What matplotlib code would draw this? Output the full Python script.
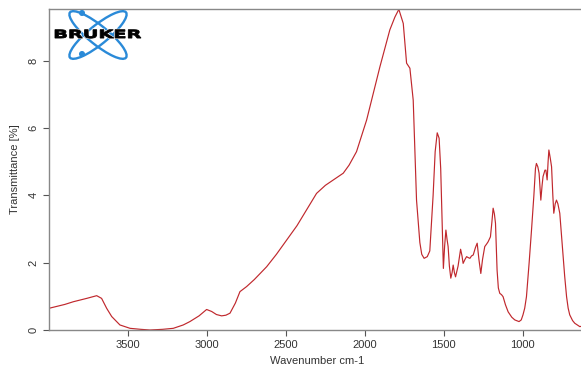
import numpy as np
import matplotlib.pyplot as plt
from matplotlib.patches import Ellipse, Circle, PathPatch
from matplotlib.textpath import TextPath
from matplotlib.font_manager import FontProperties
from matplotlib.transforms import Affine2D

# IR spectrum (wavenumber cm-1, transmittance %)
wavenumber = [4000, 3900, 3846, 3761, 3698, 3667, 3635, 3603, 3551, 3487, 3420, 3361,
              3280, 3213, 3150, 3108, 3050, 3002, 2970, 2940, 2907, 2880, 2854, 2820,
              2791, 2749, 2700, 2622, 2560, 2496, 2430, 2369, 2306, 2250, 2200, 2137,
              2100, 2053, 1989, 1905, 1842, 1810, 1785, 1757, 1736, 1715, 1694, 1673,
              1662, 1652, 1640, 1625, 1605, 1589, 1568, 1555, 1542, 1530, 1520, 1510,
              1503, 1495, 1487, 1480, 1473, 1465, 1456, 1448, 1441, 1433, 1426, 1410,
              1394, 1385, 1378, 1366, 1356, 1345, 1335, 1325, 1314, 1300, 1289, 1278,
              1266, 1255, 1241, 1230, 1220, 1205, 1196, 1188, 1180, 1173, 1163, 1155,
              1146, 1135, 1125, 1110, 1093, 1070, 1051, 1024, 1010, 999, 988, 977,
              960, 945, 930, 920, 914, 905, 897, 886, 878, 872, 860, 854,
              846, 840, 835, 826, 818, 810, 804, 795, 787, 778, 766, 755,
              745, 735, 723, 713, 703, 685, 671, 655, 639, 620, 600]
transmittance = [0.645, 0.76, 0.84, 0.94, 1.02, 0.94, 0.645, 0.40, 0.15, 0.05, 0.02, 0.0,
                 0.02, 0.05, 0.15, 0.25, 0.42, 0.61, 0.55, 0.46, 0.42, 0.44, 0.5, 0.8,
                 1.14, 1.29, 1.5, 1.88, 2.25, 2.67, 3.1, 3.57, 4.06, 4.3, 4.46, 4.66,
                 4.9, 5.30, 6.24, 7.82, 8.92, 9.3, 9.53, 9.11, 7.93, 7.78, 6.83, 3.86,
                 3.2, 2.6, 2.25, 2.13, 2.18, 2.35, 4.0, 5.3, 5.86, 5.7, 4.8, 3.0,
                 1.83, 2.5, 2.97, 2.7, 2.48, 1.9, 1.54, 1.7, 1.93, 1.7, 1.58, 1.9,
                 2.40, 2.2, 1.98, 2.1, 2.18, 2.15, 2.13, 2.2, 2.23, 2.45, 2.58, 2.1,
                 1.68, 2.1, 2.48, 2.55, 2.62, 2.77, 3.2, 3.62, 3.45, 3.17, 1.78, 1.25,
                 1.09, 1.05, 0.99, 0.75, 0.54, 0.38, 0.30, 0.25, 0.3, 0.45, 0.65, 0.99,
                 2.0, 2.97, 4.0, 4.8, 4.95, 4.85, 4.66, 3.86, 4.3, 4.56, 4.75, 4.75,
                 4.46, 5.0, 5.35, 5.1, 4.85, 4.0, 3.47, 3.75, 3.86, 3.75, 3.47, 2.8,
                 2.18, 1.6, 0.99, 0.65, 0.45, 0.28, 0.2, 0.15, 0.1, 0.12, 0.1]
xticks = [3500, 3000, 2500, 2000, 1500, 1000]
yticks = [0, 2, 4, 6, 8]

W, H = 581, 371
plt.rcParams['font.family'] = ['Liberation Sans', 'DejaVu Sans']
fig = plt.figure(figsize=(W/100, H/100), dpi=100)

# axes runs a bit past the right edge, like the cropped original
ax = fig.add_axes([49/W, 41/H, 537/W, 321/H])
ax.plot(wavenumber, transmittance, color='#c0282d', lw=0.85)
ax.set_xlim(4000, 600)
ax.set_ylim(0, 9.54)
ax.set_xticks(xticks)
ax.set_yticks(yticks)
ax.set_yticklabels([str(v) for v in yticks], rotation=90, va='center')
ax.tick_params(colors='#555555', labelcolor='#333333', labelsize=8, length=4, width=0.8)
ax.spines['right'].set_visible(False)
for s in ['left', 'bottom', 'top']:
    ax.spines[s].set_color('#888888')
    ax.spines[s].set_linewidth(1.0)
ax.set_xlabel('Wavenumber cm-1', fontsize=8, color='#333333', labelpad=4)
ax.set_ylabel('Transmittance [%]', fontsize=8, color='#333333', labelpad=6)

# Bruker logo, in pixel units (y down)
lg = fig.add_axes([50/W, (H-62)/H, 95/W, 52/H])
lg.set_xlim(50, 145)
lg.set_ylim(62, 10)
lg.axis('off')
blue = '#2a8ad8'
lg.add_patch(Ellipse((98, 35), 72, 19, angle=39, fill=False, ec=blue, lw=1.7))
lg.add_patch(Ellipse((98, 35), 72, 19, angle=-39, fill=False, ec=blue, lw=1.7))
lg.add_patch(Circle((82, 13), 2.3, color=blue))
lg.add_patch(Circle((82, 54), 2.3, color=blue))

# stretched bold lettering
tp = TextPath((0, 0), 'BRUKER', size=10, prop=FontProperties(family='DejaVu Sans', weight='bold'))
bb = tp.get_extents()
sx = 86 / bb.width
sy = 8.5 / bb.height
tr = Affine2D().translate(-bb.x0, -bb.y0).scale(sx, -sy).translate(55, 38.2)
lg.add_patch(PathPatch(tr.transform_path(tp), fc='black', ec='white', lw=1.4))
lg.add_patch(PathPatch(tr.transform_path(tp), fc='black', ec='black', lw=0.6))

fig.savefig('out.png', dpi=100)
